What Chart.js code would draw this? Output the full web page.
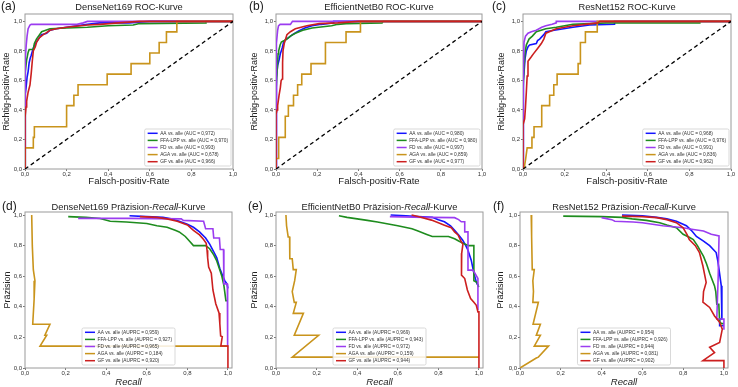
<!DOCTYPE html>
<html><head><meta charset="utf-8">
<script src="https://cdn.jsdelivr.net/npm/chart.js@4.4.0/dist/chart.umd.min.js"></script>
<style>
html,body{margin:0;padding:0;background:#fff;width:738px;height:387px;overflow:hidden}
canvas{position:absolute;left:0;top:0}
</style></head><body>
<canvas id="c0" width="738" height="387"></canvas>
<canvas id="c1" width="738" height="387"></canvas>
<canvas id="c2" width="738" height="387"></canvas>
<canvas id="c3" width="738" height="387"></canvas>
<canvas id="c4" width="738" height="387"></canvas>
<canvas id="c5" width="738" height="387"></canvas>
<script>
// ---------- data ----------
const classNames = ['AA', 'FFA-LPP', 'FD', 'AGA', 'GF'];
const classColors = ['#1414ff', '#1e8c1e', '#9b3cf0', '#c9941c', '#cc1f1f'];
const tickValues = [0, 0.2, 0.4, 0.6, 0.8, 1.0];
const tickLabels = ['0,0', '0,2', '0,4', '0,6', '0,8', '1,0'];
const diagLine = [[0, 0], [1, 1]];

// ROC DenseNet169
const A_AA = [[0,0],[0,0.5],[0.005,0.55],[0.01,0.62],[0.015,0.66],[0.02,0.72],[0.025,0.75],[0.03,0.77],[0.04,0.82],[0.05,0.85],[0.064,0.88],[0.08,0.91],[0.104,0.92],[0.12,0.94],[0.15,0.95],[0.2,0.96],[0.25,0.97],[0.3,0.98],[0.36,0.99],[0.5,0.99],[0.6,1],[1,1]];
const A_FFA = [[0,0],[0,0.5],[0.003,0.66],[0.008,0.74],[0.015,0.79],[0.02,0.81],[0.04,0.81],[0.045,0.85],[0.055,0.88],[0.07,0.91],[0.08,0.93],[0.1,0.94],[0.12,0.95],[0.2,0.955],[0.3,0.96],[0.4,0.97],[0.52,0.975],[0.55,0.985],[0.87,0.99],[0.87,1],[1,1]];
const A_FD = [[0,0],[0,0.55],[0.003,0.75],[0.006,0.84],[0.01,0.9],[0.015,0.95],[0.024,0.975],[0.03,0.98],[0.25,0.98],[0.28,0.99],[0.3,1],[1,1]];
const A_AGA = [[0,0],[0,0.143],[0.04,0.143],[0.04,0.214],[0.045,0.214],[0.045,0.286],[0.2,0.286],[0.2,0.429],[0.235,0.429],[0.235,0.5],[0.255,0.5],[0.255,0.571],[0.395,0.571],[0.395,0.643],[0.51,0.643],[0.51,0.714],[0.6,0.714],[0.6,0.786],[0.645,0.786],[0.645,0.857],[0.68,0.857],[0.68,0.929],[0.73,0.929],[0.73,1],[1,1]];
const A_GF = [[0,0],[0,0.35],[0.005,0.42],[0.008,0.46],[0.015,0.52],[0.024,0.57],[0.03,0.65],[0.035,0.73],[0.04,0.8],[0.05,0.83],[0.056,0.86],[0.07,0.89],[0.088,0.91],[0.1,0.92],[0.12,0.94],[0.15,0.95],[0.2,0.96],[0.3,0.975],[0.36,0.98],[0.45,0.99],[0.55,1],[1,1]];
const A_SCORES = ['0,972', '0,970', '0,993', '0,678', '0,966'];

// ROC EfficientNetB0
const B_AA = [[0,0],[0,0.55],[0.004,0.62],[0.008,0.7],[0.015,0.74],[0.021,0.78],[0.03,0.82],[0.037,0.86],[0.05,0.88],[0.061,0.89],[0.08,0.91],[0.11,0.935],[0.14,0.955],[0.175,0.97],[0.22,0.98],[0.28,0.99],[0.28,1],[1,1]];
const B_FFA = [[0,0],[0,0.53],[0.005,0.65],[0.01,0.78],[0.013,0.8],[0.02,0.84],[0.026,0.86],[0.04,0.87],[0.053,0.88],[0.07,0.9],[0.094,0.92],[0.13,0.94],[0.175,0.955],[0.27,0.97],[0.3,0.98],[0.34,0.985],[0.515,0.99],[0.52,1],[1,1]];
const B_FD = [[0,0],[0,0.45],[0.004,0.85],[0.008,0.94],[0.012,0.97],[0.02,0.98],[0.07,0.98],[0.08,1],[1,1]];
const B_AGA = [[0,0],[0,0.071],[0.013,0.071],[0.013,0.214],[0.045,0.214],[0.045,0.357],[0.06,0.357],[0.06,0.429],[0.085,0.429],[0.085,0.5],[0.105,0.5],[0.105,0.571],[0.125,0.571],[0.125,0.643],[0.17,0.643],[0.17,0.714],[0.24,0.714],[0.24,0.857],[0.34,0.857],[0.34,0.929],[0.41,0.929],[0.41,1],[1,1]];
const B_GF = [[0,0],[0,0.37],[0.005,0.4],[0.008,0.43],[0.015,0.5],[0.021,0.55],[0.025,0.6],[0.03,0.61],[0.032,0.72],[0.034,0.8],[0.04,0.85],[0.053,0.91],[0.07,0.93],[0.094,0.95],[0.15,0.97],[0.21,0.985],[0.3,0.99],[0.4,1],[1,1]];
const B_SCORES = ['0,980', '0,980', '0,997', '0,859', '0,977'];

// ROC ResNet152
const C_AA = [[0,0],[0,0.3],[0.004,0.6],[0.01,0.75],[0.016,0.8],[0.025,0.83],[0.032,0.84],[0.064,0.85],[0.07,0.87],[0.08,0.88],[0.1,0.91],[0.11,0.93],[0.15,0.94],[0.24,0.96],[0.32,0.975],[0.44,0.98],[0.44,1],[1,1]];
const C_FFA = [[0,0],[0,0.52],[0.005,0.7],[0.01,0.79],[0.016,0.84],[0.029,0.88],[0.045,0.9],[0.064,0.93],[0.11,0.95],[0.16,0.96],[0.24,0.98],[0.4,0.99],[0.85,0.99],[0.85,1],[1,1]];
const C_FD = [[0,0],[0,0.3],[0.002,0.6],[0.005,0.86],[0.012,0.9],[0.024,0.92],[0.04,0.93],[0.064,0.94],[0.09,0.96],[0.11,0.97],[0.14,0.98],[0.16,0.99],[0.16,1],[1,1]];
const C_AGA = [[0,0],[0.005,0],[0.013,0.071],[0.02,0.143],[0.043,0.143],[0.043,0.214],[0.053,0.214],[0.053,0.286],[0.09,0.286],[0.09,0.429],[0.128,0.429],[0.128,0.5],[0.148,0.5],[0.148,0.571],[0.164,0.571],[0.164,0.643],[0.265,0.643],[0.265,0.714],[0.276,0.714],[0.276,0.857],[0.3,0.857],[0.3,0.929],[0.357,0.929],[0.357,1],[1,1]];
const C_GF = [[0,0],[0,0.3],[0.008,0.34],[0.012,0.42],[0.016,0.52],[0.02,0.63],[0.024,0.73],[0.04,0.76],[0.05,0.78],[0.072,0.82],[0.088,0.85],[0.1,0.88],[0.11,0.92],[0.16,0.95],[0.24,0.97],[0.3,0.98],[0.36,0.99],[0.37,1],[1,1]];
const C_SCORES = ['0,968', '0,976', '0,991', '0,836', '0,962'];

// PR DenseNet169
const D_AA = [[0.515,0.995],[0.6,0.99],[0.68,0.985],[0.72,0.975],[0.76,0.96],[0.8,0.94],[0.83,0.92],[0.86,0.89],[0.89,0.85],[0.91,0.81],[0.93,0.76],[0.945,0.72],[0.96,0.65],[0.975,0.6],[0.985,0.57],[0.995,0.55],[1.0,0.52]];
const D_FFA = [[0.213,0.99],[0.3,0.985],[0.37,0.978],[0.42,0.96],[0.5,0.955],[0.6,0.945],[0.65,0.93],[0.7,0.92],[0.74,0.9],[0.76,0.89],[0.79,0.86],[0.81,0.83],[0.83,0.8],[0.89,0.8],[0.91,0.78],[0.93,0.74],[0.945,0.7],[0.96,0.64],[0.97,0.6],[0.98,0.54],[0.99,0.44],[1.0,0.44]];
const D_FD = [[0.262,0.978],[0.5,0.978],[0.77,0.975],[0.78,0.965],[0.88,0.96],[0.89,0.91],[0.926,0.91],[0.93,0.85],[0.958,0.85],[0.962,0.775],[0.978,0.775],[0.98,0.55],[0.997,0.55],[0.997,0.143],[1.0,0.143]];
const D_AGA = [[0.033,1.0],[0.036,0.8],[0.041,0.643],[0.049,0.571],[0.045,0.45],[0.038,0.286],[0.123,0.286],[0.098,0.214],[0.107,0.214],[0.074,0.143],[1.0,0.143]];
const D_GF = [[0.566,0.99],[0.65,0.985],[0.7,0.975],[0.75,0.96],[0.8,0.935],[0.83,0.9],[0.86,0.87],[0.88,0.84],[0.893,0.815],[0.897,0.77],[0.9,0.72],[0.905,0.66],[0.918,0.62],[0.926,0.51],[0.94,0.42],[0.956,0.36],[0.96,0.29],[0.964,0.21],[0.972,0.205],[0.965,0.144],[1.0,0.144],[1.0,0.0]];
const D_SCORES = ['0,959', '0,927', '0,965', '0,184', '0,920'];

// PR EfficientNetB0
const E_AA = [[0.565,1.0],[0.64,0.995],[0.7,0.99],[0.77,0.985],[0.8,0.97],[0.83,0.956],[0.86,0.93],[0.88,0.9],[0.9,0.87],[0.92,0.836],[0.935,0.8],[0.946,0.77],[0.962,0.705],[0.975,0.62],[0.987,0.563],[0.995,0.54],[1.0,0.54]];
const E_FFA = [[0.31,0.995],[0.35,0.985],[0.4,0.975],[0.45,0.965],[0.5,0.955],[0.54,0.945],[0.6,0.93],[0.67,0.91],[0.7,0.895],[0.74,0.875],[0.77,0.86],[0.85,0.86],[0.88,0.845],[0.9,0.83],[0.93,0.81],[0.95,0.8],[0.975,0.8],[0.975,0.57],[0.99,0.56],[0.995,0.54],[1.0,0.53]];
const E_FD = [[0.561,0.99],[0.74,0.985],[0.88,0.983],[0.9,0.97],[0.913,0.956],[0.93,0.956],[0.93,0.89],[0.946,0.89],[0.946,0.64],[0.97,0.64],[0.98,0.62],[0.995,0.585],[0.995,0.38]];
const E_AGA = [[0.049,1.0],[0.052,0.93],[0.06,0.857],[0.067,0.857],[0.068,0.714],[0.08,0.714],[0.085,0.643],[0.1,0.643],[0.092,0.571],[0.08,0.5],[0.09,0.429],[0.1,0.429],[0.085,0.357],[0.135,0.357],[0.09,0.214],[0.21,0.214],[0.08,0.071],[1.0,0.071]];
const E_GF = [[0.668,1.0],[0.7,0.99],[0.766,0.967],[0.8,0.95],[0.83,0.934],[0.864,0.917],[0.88,0.89],[0.897,0.87],[0.913,0.825],[0.921,0.81],[0.915,0.75],[0.913,0.66],[0.915,0.607],[0.93,0.585],[0.943,0.51],[0.959,0.454],[0.975,0.43],[0.987,0.41],[0.995,0.367],[1.0,0.367],[1.0,0.0]];
const E_SCORES = ['0,969', '0,943', '0,972', '0,159', '0,944'];

// PR ResNet152
const F_AA = [[0.5,1.0],[0.6,0.995],[0.67,0.985],[0.72,0.975],[0.767,0.96],[0.816,0.93],[0.84,0.9],[0.865,0.86],[0.9,0.83],[0.93,0.8],[0.962,0.755],[0.97,0.7],[0.976,0.645],[0.987,0.537],[0.99,0.32],[0.979,0.32],[0.979,0.276],[1.0,0.276]];
const F_FFA = [[0.212,0.993],[0.4,0.99],[0.5,0.985],[0.55,0.975],[0.62,0.965],[0.685,0.95],[0.72,0.935],[0.767,0.917],[0.8,0.874],[0.83,0.855],[0.85,0.84],[0.87,0.8],[0.9,0.73],[0.915,0.68],[0.93,0.62],[0.954,0.537],[0.96,0.5],[0.965,0.417],[0.975,0.417],[0.979,0.3],[0.99,0.29],[1.0,0.29]];
const F_FD = [[0.4,0.983],[0.45,0.97],[0.465,0.96],[0.555,0.955],[0.6,0.95],[0.7,0.93],[0.8,0.917],[0.85,0.906],[0.9,0.896],[0.938,0.874],[0.976,0.863],[0.972,0.6],[0.965,0.32],[1.0,0.32],[1.0,0.25]];
const F_AGA = [[0.055,1.0],[0.057,0.86],[0.06,0.643],[0.07,0.643],[0.063,0.571],[0.066,0.5],[0.063,0.429],[0.09,0.429],[0.064,0.286],[0.1,0.286],[0.08,0.214],[0.1,0.214],[0.07,0.143],[0.14,0.143],[0.09,0.071],[0.08,0.065],[0.0,0.0]];
const F_GF = [[0.5,0.993],[0.6,0.99],[0.67,0.983],[0.72,0.97],[0.767,0.95],[0.8,0.917],[0.82,0.87],[0.83,0.84],[0.86,0.8],[0.88,0.755],[0.897,0.667],[0.913,0.56],[0.9,0.5],[0.897,0.43],[0.93,0.396],[0.954,0.34],[0.979,0.3],[0.992,0.254],[0.979,0.167],[0.93,0.135],[0.954,0.1],[0.897,0.048],[1.0,0.048],[1.0,0.0]];
const F_SCORES = ['0,954', '0,926', '0,944', '0,081', '0,902'];

// ---------- layout & style ----------
const FONT = '"Liberation Sans", Arial, Helvetica, sans-serif';
const ROC_AREA = {t: 14, b: 169};
const PR_AREA = {t: 212, b: 368};

const panels = [
  {id:'c0', letter:'(a)', lx:1, ly:7, title:[['DenseNet169 ROC-Kurve','normal']], ty:7,
   l:25, r:233, row:ROC_AREA, xmax:1, ymax:1.05, yTitleX:7, xTitleY:181.5, roc:true,
   curves:[A_AA,A_FFA,A_FD,A_AGA,A_GF], scores:A_SCORES},
  {id:'c1', letter:'(b)', lx:249, ly:7, title:[['EfficientNetB0 ROC-Kurve','normal']], ty:7,
   l:276, r:482, row:ROC_AREA, xmax:1, ymax:1.05, yTitleX:255, xTitleY:181.5, roc:true,
   curves:[B_AA,B_FFA,B_FD,B_AGA,B_GF], scores:B_SCORES},
  {id:'c2', letter:'(c)', lx:492, ly:7, title:[['ResNet152 ROC-Kurve','normal']], ty:7,
   l:523, r:731, row:ROC_AREA, xmax:1, ymax:1.05, yTitleX:501.7, xTitleY:181.5, roc:true,
   curves:[C_AA,C_FFA,C_FD,C_AGA,C_GF], scores:C_SCORES},
  {id:'c3', letter:'(d)', lx:2, ly:207, title:[['DenseNet169 Präzision-','normal'],['Recall','italic'],['-Kurve','normal']], ty:207,
   l:25, r:232, row:PR_AREA, xmax:1.02, ymax:1.02, yTitleX:7.3, xTitleY:382, roc:false,
   curves:[D_AA,D_FFA,D_FD,D_AGA,D_GF], scores:D_SCORES},
  {id:'c4', letter:'(e)', lx:248, ly:207, title:[['EfficientNetB0 Präzision-','normal'],['Recall','italic'],['-Kurve','normal']], ty:207,
   l:276, r:483, row:PR_AREA, xmax:1.02, ymax:1.02, yTitleX:255, xTitleY:382, roc:false,
   curves:[E_AA,E_FFA,E_FD,E_AGA,E_GF], scores:E_SCORES},
  {id:'c5', letter:'(f)', lx:493, ly:207, title:[['ResNet152 Präzision-','normal'],['Recall','italic'],['-Kurve','normal']], ty:207,
   l:520, r:728, row:PR_AREA, xmax:1.02, ymax:1.02, yTitleX:500.7, xTitleY:382, roc:false,
   curves:[F_AA,F_FFA,F_FD,F_AGA,F_GF], scores:F_SCORES}
];

function decoPlugin(p) {
  return {
    id: 'deco' + p.id,
    beforeDatasetsDraw(chart) {
      const {ctx, chartArea: a} = chart;
      ctx.save();
      ctx.strokeStyle = '#9a9a9a';
      ctx.lineWidth = 1;
      ctx.strokeRect(a.left, a.top, a.right - a.left, a.bottom - a.top);
      ctx.restore();
    },
    afterDatasetsDraw(chart) {
      const {ctx, chartArea: a} = chart;
      const fs = 4.8;
      const metric = p.roc ? 'AUC' : 'AUPRC';
      const labels = classNames.map((n, i) => n + ' vs. alle (' + metric + ' = ' + p.scores[i] + ')');
      ctx.save();
      ctx.font = fs + 'px ' + FONT;
      const tw = Math.max(...labels.map(t => ctx.measureText(t).width));
      const rowH = 7.1;
      const w = 15.5 + tw + 3;
      const h = 4.3 * 2 + rowH * 4;
      const x0 = p.roc ? a.right - 2 - w : (a.left + a.right) / 2 - w / 2;
      const y0 = a.bottom - 3 - h;
      ctx.fillStyle = 'rgba(255,255,255,0.85)';
      ctx.strokeStyle = '#cfcfcf';
      ctx.lineWidth = 0.8;
      ctx.beginPath();
      if (ctx.roundRect) ctx.roundRect(x0, y0, w, h, 1.5); else ctx.rect(x0, y0, w, h);
      ctx.fill(); ctx.stroke();
      ctx.textBaseline = 'middle';
      ctx.textAlign = 'left';
      labels.forEach((t, i) => {
        const cy = y0 + 4.3 + i * rowH;
        ctx.strokeStyle = classColors[i];
        ctx.lineWidth = 1.5;
        ctx.beginPath(); ctx.moveTo(x0 + 3, cy); ctx.lineTo(x0 + 13, cy); ctx.stroke();
        ctx.fillStyle = '#333';
        ctx.fillText(t, x0 + 15.5, cy);
      });
      ctx.restore();
    },
    afterDraw(chart) {
      const {ctx, chartArea: a} = chart;
      ctx.save();
      ctx.fillStyle = '#1a1a1a';
      ctx.textBaseline = 'middle';
      ctx.textAlign = 'left';
      const tfs = 9.3;
      let total = 0;
      const widths = p.title.map(([t, st]) => { ctx.font = st + ' ' + tfs + 'px ' + FONT; const wv = ctx.measureText(t).width; total += wv; return wv; });
      let x = (a.left + a.right) / 2 - total / 2;
      p.title.forEach(([t, st], i) => { ctx.font = st + ' ' + tfs + 'px ' + FONT; ctx.fillText(t, x, p.ty); x += widths[i]; });
      ctx.font = '12px ' + FONT;
      ctx.fillText(p.letter, p.lx, p.ly);
      ctx.restore();
    }
  };
}

function makePanel(p) {
  const yLH = 9, xLH = 9.5;
  const scaleLeft = p.yTitleX - yLH / 2;
  const wy = p.l - scaleLeft;
  const scaleBottom = p.xTitleY + xLH / 2;
  const hx = scaleBottom - p.row.b;
  const datasets = [];
  if (p.roc) {
    datasets.push({data: diagLine.map(([x, y]) => ({x, y})), showLine: true, borderColor: '#000',
      borderDash: [4, 3], borderWidth: 1.3, pointRadius: 0, order: 0});
  }
  p.curves.forEach((c, i) => {
    datasets.push({label: classNames[i], data: c.map(([x, y]) => ({x, y})), showLine: true,
      borderColor: classColors[i], borderWidth: 1.6, pointRadius: 0, order: 10 - i});
  });
  const tickFont = {size: 6, family: FONT};
  new Chart(document.getElementById(p.id), {
    type: 'scatter',
    data: {datasets},
    options: {
      responsive: false, animation: false, events: [],
      layout: {padding: {left: scaleLeft, top: p.row.t, right: 738 - p.r, bottom: 387 - scaleBottom}},
      elements: {line: {tension: 0}, point: {radius: 0}},
      plugins: {legend: {display: false}, tooltip: {enabled: false}, title: {display: false}},
      scales: {
        x: {
          type: 'linear', min: 0, max: p.xmax,
          afterBuildTicks: s => { s.ticks = tickValues.map(v => ({value: v})); },
          ticks: {callback: (v, i) => tickLabels[i], font: tickFont, color: '#333', padding: 0, maxRotation: 0, autoSkip: false},
          grid: {drawOnChartArea: false, drawTicks: true, tickLength: 2, color: '#555', tickWidth: 0.8},
          border: {display: false},
          title: {display: true, text: p.roc ? 'Falsch-positiv-Rate' : 'Recall', color: '#222', padding: 0,
            font: {size: 9.5, family: FONT, style: p.roc ? 'normal' : 'italic', lineHeight: 1}},
          afterFit: s => { s.height = hx; s.paddingLeft = 0; s.paddingRight = 0; s.paddingTop = 0; s.paddingBottom = 0; }
        },
        y: {
          type: 'linear', min: 0, max: p.ymax,
          afterBuildTicks: s => { s.ticks = tickValues.map(v => ({value: v})); },
          ticks: {callback: (v, i) => tickLabels[i], font: tickFont, color: '#333', padding: 1, autoSkip: false},
          grid: {drawOnChartArea: false, drawTicks: true, tickLength: 2, color: '#555', tickWidth: 0.8},
          border: {display: false},
          title: {display: true, text: p.roc ? 'Richtig-positiv-Rate' : 'Präzision', color: '#222', padding: 0,
            font: {size: 9, family: FONT, lineHeight: 1}},
          afterFit: s => { s.width = wy; s.paddingLeft = 0; s.paddingRight = 0; s.paddingTop = 0; s.paddingBottom = 0; }
        }
      }
    },
    plugins: [decoPlugin(p)]
  });
}
panels.forEach(makePanel);
</script>
</body></html>
